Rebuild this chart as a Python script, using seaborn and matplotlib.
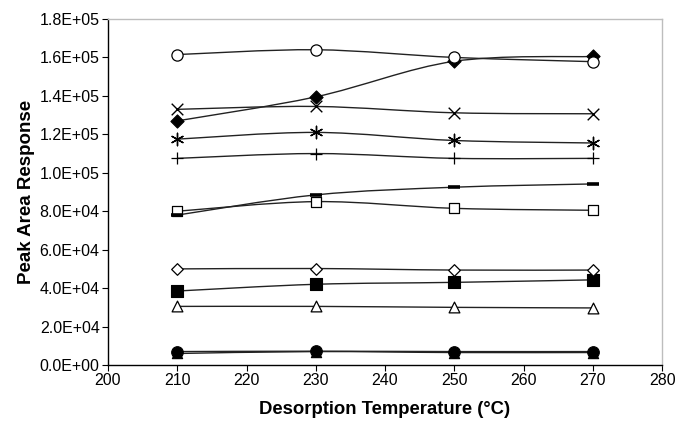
import numpy as np
import pandas as pd
import matplotlib
matplotlib.use("Agg")
import matplotlib.pyplot as plt
from matplotlib.path import Path
from matplotlib.patches import PathPatch
import seaborn as sns

sns.set_theme(style="white")
plt.rcParams["font.family"] = ["Liberation Sans", "DejaVu Sans"]
plt.rcParams["text.color"] = "black"
plt.rcParams["axes.labelcolor"] = "black"

# Desorption temperatures (°C)
temperature = [210, 230, 250, 270]

# Peak area response of each compound
open_circle = [161500, 164000, 160000, 157800]
filled_diamond = [127000, 139500, 158000, 160500]
cross = [133000, 134500, 131200, 130700]
asterisk = [117500, 121000, 116800, 115500]
plus = [107500, 110000, 107500, 107500]
dash = [78000, 88500, 92500, 94200]
open_square = [80000, 85000, 81500, 80500]
open_diamond = [50000, 50200, 49400, 49400]
filled_square = [38500, 42000, 43000, 44300]
open_triangle = [30500, 30500, 30000, 29700]
filled_circle = [7000, 7200, 7000, 7000]
filled_triangle = [6000, 7000, 6500, 6500]

x_ticks = [200, 210, 220, 230, 240, 250, 260, 270, 280]
y_ticks = [0, 20000, 40000, 60000, 80000, 100000, 120000, 140000, 160000, 180000]

series = [
    (filled_triangle, dict(marker="^", s=55, facecolor="black", edgecolor="black", linewidth=0.8)),
    (filled_circle, dict(marker="o", s=70, facecolor="black", edgecolor="black", linewidth=0.8)),
    (open_triangle, dict(marker="^", s=60, facecolor="white", edgecolor="black", linewidth=0.9)),
    (filled_square, dict(marker="s", s=70, facecolor="black", edgecolor="black", linewidth=0.8)),
    (open_diamond, dict(marker="D", s=35, facecolor="white", edgecolor="black", linewidth=0.9)),
    (open_square, dict(marker="s", s=60, facecolor="white", edgecolor="black", linewidth=0.9)),
    (dash, dict(marker="_", s=80, color="black", linewidth=2.6)),
    (plus, dict(marker="+", s=80, color="black", linewidth=0.9)),
    (asterisk, dict(marker=(6, 2, 0), s=80, color="black", linewidth=1.0)),
    (cross, dict(marker="x", s=70, color="black", linewidth=1.0)),
    (filled_diamond, dict(marker="D", s=45, facecolor="black", edgecolor="black", linewidth=0.8)),
    (open_circle, dict(marker="o", s=65, facecolor="white", edgecolor="black", linewidth=0.9)),
]


def smooth_path(xs, ys):
    """Cubic Bezier path through the points (Catmull-Rom style smoothing)."""
    pts = np.column_stack([xs, ys]).astype(float)
    n = len(pts)
    verts = [pts[0]]
    codes = [Path.MOVETO]
    for i in range(n - 1):
        p0 = pts[i - 1] if i > 0 else pts[i]
        p1 = pts[i]
        p2 = pts[i + 1]
        p3 = pts[i + 2] if i + 2 < n else pts[i + 1]
        c1 = p1 + (p2 - p0) / 6.0
        c2 = p2 - (p3 - p1) / 6.0
        verts += [c1, c2, p2]
        codes += [Path.CURVE4] * 3
    return Path(verts, codes)


fig = plt.figure(figsize=(6.77, 4.22), dpi=100)
ax = fig.add_axes([0.1595, 0.135, 0.8185, 0.82])

for values, style in series:
    ax.add_patch(PathPatch(smooth_path(temperature, values), facecolor="none",
                           edgecolor="#222222", linewidth=1.0, zorder=2))
for values, style in series:
    df = pd.DataFrame({"temperature": temperature, "response": values})
    sns.scatterplot(data=df, x="temperature", y="response", ax=ax, zorder=3,
                    legend=False, **style)

ax.set_xlim(200, 280)
ax.set_ylim(0, 180000)
ax.set_xticks(x_ticks)
ax.set_yticks(y_ticks)
ax.set_xticklabels([str(v) for v in x_ticks], fontsize=11.5, color="black")
ax.set_yticklabels([f"{v:.1E}" for v in y_ticks], fontsize=11.5, color="black")

ax.set_xlabel("Desorption Temperature (°C)", fontsize=13.3, fontweight="bold",
              labelpad=9, color="black")
ax.set_ylabel("Peak Area Response", fontsize=13.5, fontweight="bold",
              labelpad=3, color="black")

for side in ("left", "bottom"):
    ax.spines[side].set_color("black")
    ax.spines[side].set_linewidth(1.0)
for side in ("top", "right"):
    ax.spines[side].set_color("#bdbdbd")
    ax.spines[side].set_linewidth(1.0)

ax.tick_params(axis="both", direction="out", length=4, width=0.8, colors="black",
               bottom=True, left=True, pad=2)
ax.grid(False)

fig.savefig("out.png", dpi=100)
